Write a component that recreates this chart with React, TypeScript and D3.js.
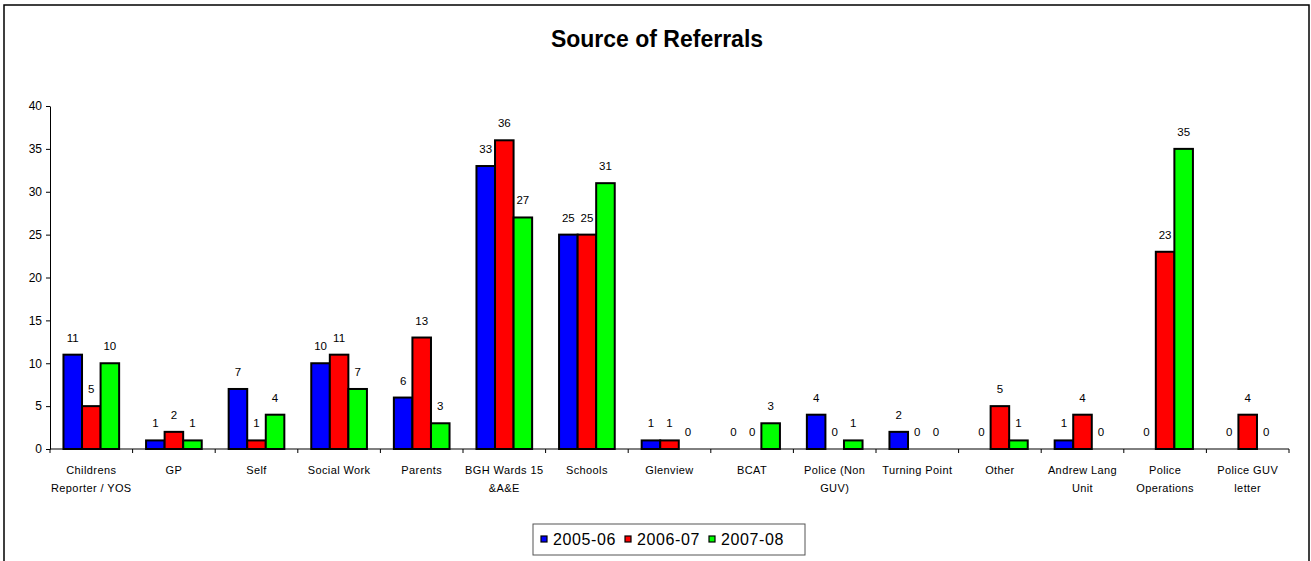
import * as d3 from "d3";
import React, { useEffect, useRef } from "react";

const categories: string[][] = [
  ["Childrens", "Reporter / YOS"],
  ["GP"],
  ["Self"],
  ["Social Work"],
  ["Parents"],
  ["BGH Wards 15", "&A&E"],
  ["Schools"],
  ["Glenview"],
  ["BCAT"],
  ["Police (Non", "GUV)"],
  ["Turning Point"],
  ["Other"],
  ["Andrew Lang", "Unit"],
  ["Police", "Operations"],
  ["Police GUV", "letter"],
];
const seriesNames = ["2005-06", "2006-07", "2007-08"];
const colors = ["#0000ff", "#ff0000", "#00ff00"];
const values2005 = [11, 1, 7, 10, 6, 33, 25, 1, 0, 4, 2, 0, 1, 0, 0];
const values2006 = [5, 2, 1, 11, 13, 36, 25, 1, 0, 0, 0, 5, 4, 23, 4];
const values2007 = [10, 1, 4, 7, 3, 27, 31, 0, 3, 1, 0, 1, 0, 35, 0];
const yTicks = [0, 5, 10, 15, 20, 25, 30, 35, 40];

const W = 1311;
const H = 561;
const FONT = "'Liberation Sans', Arial, sans-serif";

const App = () => {
  const ref = useRef<SVGSVGElement>(null);

  useEffect(() => {
    const svg = d3.select(ref.current);
    svg.selectAll("*").remove();
    const series = [values2005, values2006, values2007];

    svg
      .append("rect")
      .attr("x", 4)
      .attr("y", 5)
      .attr("width", 1305)
      .attr("height", 600)
      .attr("fill", "white")
      .attr("stroke", "black")
      .attr("stroke-width", 1.5);

    svg
      .append("text")
      .attr("x", 657)
      .attr("y", 47)
      .attr("text-anchor", "middle")
      .attr("font-family", FONT)
      .attr("font-weight", "bold")
      .attr("font-size", 23)
      .text("Source of Referrals");

    const left = 50;
    const right = 1289;
    const top = 106;
    const bottom = 449;

    const x = d3
      .scaleBand<number>()
      .domain(d3.range(categories.length))
      .range([left, right])
      .padding(0);
    const groupW = x.bandwidth() * 0.674;
    const inner = d3
      .scaleBand<number>()
      .domain([0, 1, 2])
      .range([0, groupW]);
    const y = d3.scaleLinear().domain([0, 40]).range([bottom, top]);

    const g = svg.append("g");

    // y axis
    const yAxis = g
      .append("g")
      .attr("transform", `translate(${left},0)`)
      .call(d3.axisLeft(y).tickValues(yTicks).tickSize(4).tickPadding(4).tickSizeOuter(0));
    yAxis.select(".domain").attr("stroke", "black");
    yAxis
      .selectAll("text")
      .attr("font-family", FONT)
      .attr("font-size", 12)
      .attr("fill", "black");

    // x axis line + ticks
    g.append("line")
      .attr("x1", left)
      .attr("x2", right)
      .attr("y1", bottom)
      .attr("y2", bottom)
      .attr("stroke", "black");
    d3.range(categories.length + 1).forEach((i) => {
      const xv = i < categories.length ? (x(i) as number) : right;
      g.append("line")
        .attr("x1", xv)
        .attr("x2", xv)
        .attr("y1", bottom)
        .attr("y2", bottom + 4)
        .attr("stroke", "black");
    });

    // category labels
    categories.forEach((lines, i) => {
      const cx = (x(i) as number) + x.bandwidth() / 2;
      const t = g
        .append("text")
        .attr("text-anchor", "middle")
        .attr("font-family", FONT)
        .attr("font-size", 11)
        .attr("letter-spacing", 0.4)
        .attr("fill", "black");
      lines.forEach((ln, k) => {
        t.append("tspan")
          .attr("x", cx)
          .attr("y", 474 + k * 18)
          .text(ln);
      });
    });

    // bars
    series.forEach((vals, s) => {
      vals.forEach((v, i) => {
        const bx =
          (x(i) as number) + (x.bandwidth() - groupW) / 2 + (inner(s) as number);
        if (v > 0) {
          g.append("rect")
            .attr("x", bx)
            .attr("y", y(v))
            .attr("width", inner.bandwidth())
            .attr("height", y(0) - y(v))
            .attr("fill", colors[s])
            .attr("stroke", "black")
            .attr("stroke-width", 2);
        }
        g.append("text")
          .attr("x", bx + inner.bandwidth() / 2)
          .attr("y", y(v) - 13)
          .attr("text-anchor", "middle")
          .attr("font-family", FONT)
          .attr("font-size", 11.5)
          .attr("fill", "black")
          .text(String(v));
      });
    });

    // legend
    const lg = svg.append("g");
    lg.append("rect")
      .attr("x", 533)
      .attr("y", 524)
      .attr("width", 272)
      .attr("height", 31)
      .attr("fill", "white")
      .attr("stroke", "#555")
      .attr("stroke-width", 1);
    seriesNames.forEach((name, i) => {
      const lx = 541 + i * 84;
      lg.append("rect")
        .attr("x", lx)
        .attr("y", 536)
        .attr("width", 6)
        .attr("height", 6)
        .attr("fill", colors[i])
        .attr("stroke", "black")
        .attr("stroke-width", 1.2);
      lg.append("text")
        .attr("x", lx + 12)
        .attr("y", 545)
        .attr("font-family", FONT)
        .attr("font-size", 16)
        .attr("letter-spacing", 0.6)
        .attr("fill", "black")
        .text(name);
    });
  }, []);

  return (
    <svg
      ref={ref}
      width={W}
      height={H}
      style={{ position: "absolute", left: 0, top: 0, background: "white" }}
    />
  );
};

export default App;
